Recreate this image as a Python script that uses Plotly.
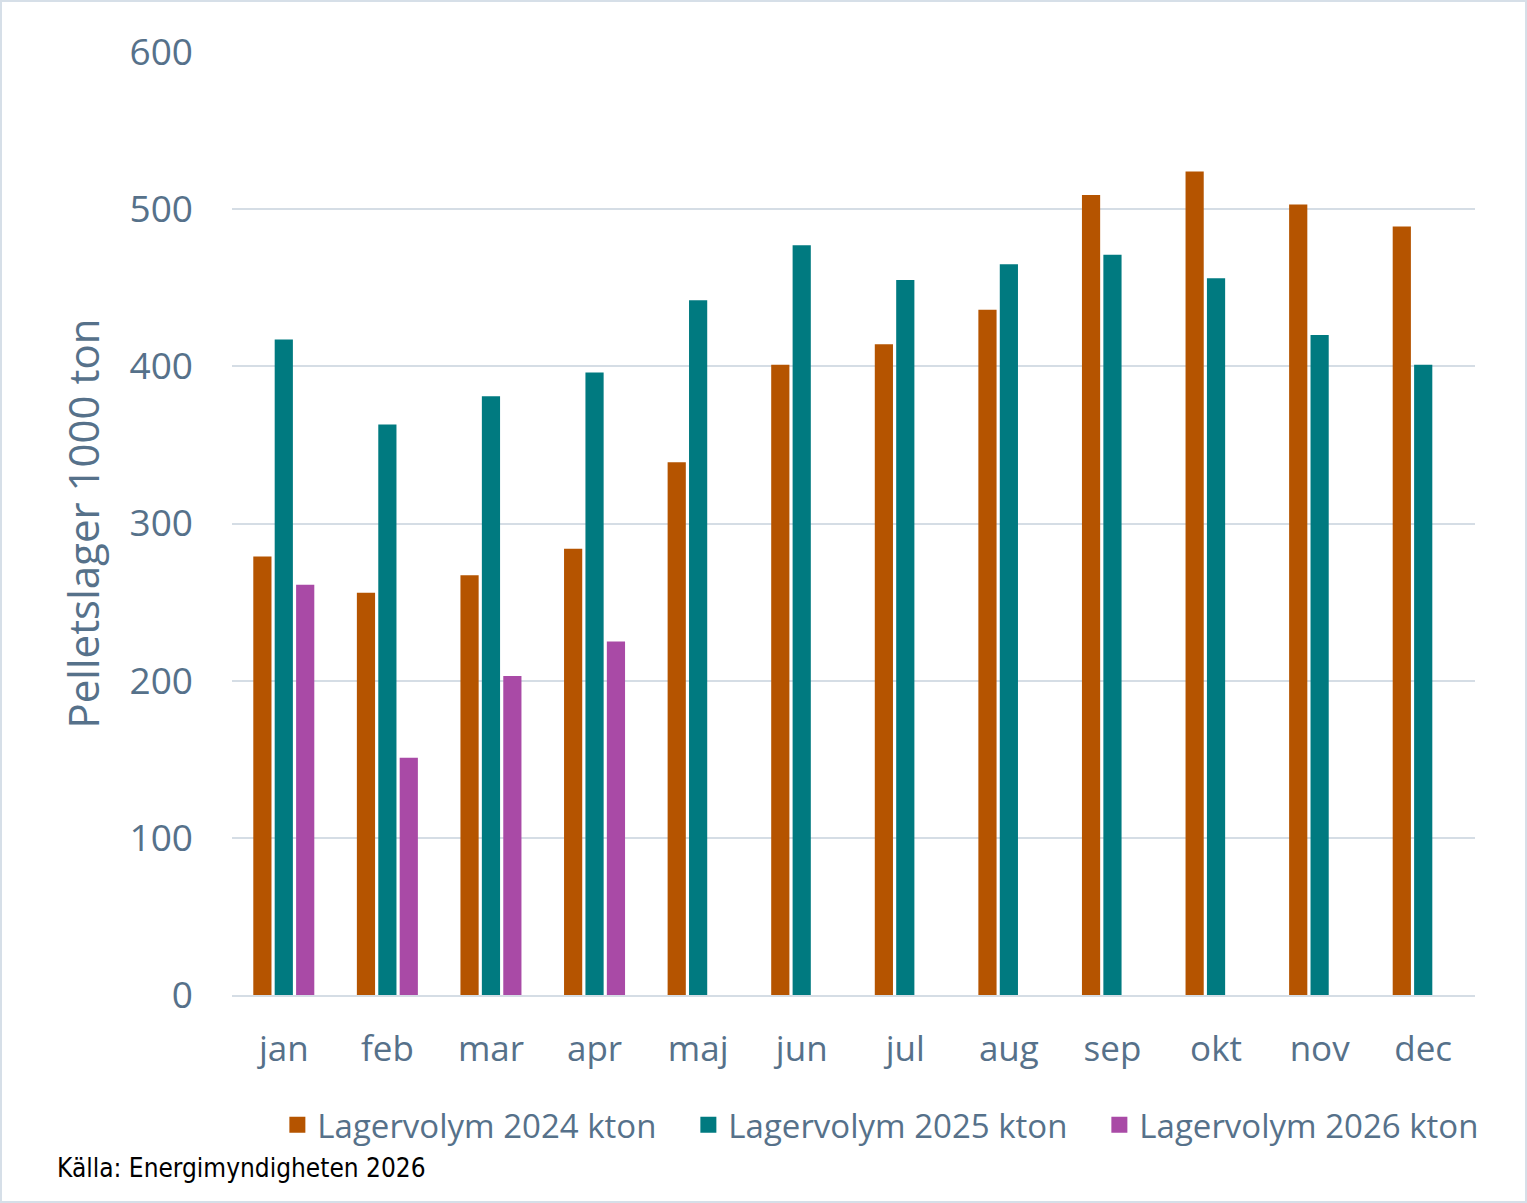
import plotly.graph_objects as go

months = ["jan", "feb", "mar", "apr", "maj", "jun", "jul", "aug", "sep", "okt", "nov", "dec"]
vol_2024 = [279, 256, 267, 284, 339, 401, 414, 436, 509, 524, 503, 489]
vol_2025 = [417, 363, 381, 396, 442, 477, 455, 465, 471, 456, 420, 401]
vol_2026 = [261, 151, 203, 225, None, None, None, None, None, None, None, None]
series_names = ["Lagervolym 2024 kton", "Lagervolym 2025 kton", "Lagervolym 2026 kton"]
colors = ["#B55400", "#007A80", "#A94AA6"]
y_ticks = [0, 100, 200, 300, 400, 500, 600]

TXT = "#56718A"
FONT = "Open Sans, Noto Sans, Arial, sans-serif"

fig = go.Figure()
for name, vals, col in zip(series_names, [vol_2024, vol_2025, vol_2026], colors):
    fig.add_trace(go.Bar(x=months, y=vals, name=name, marker_color=col, marker_line_width=0,
                         showlegend=False))
# legend entries with larger square symbols
for name, col in zip(series_names, colors):
    fig.add_trace(go.Scatter(x=[None], y=[None], mode="markers", name=name,
                             marker=dict(symbol="square", size=20, color=col)))

fig.update_layout(
    width=1527, height=1203,
    paper_bgcolor="white", plot_bgcolor="white",
    margin=dict(l=232, r=52, t=52, b=208, autoexpand=False),
    barmode="group", bargap=0.38, bargroupgap=0.15,
    font=dict(family=FONT, color=TXT),
    showlegend=True,
    legend=dict(orientation="h", x=0.0365, xanchor="left", y=-0.108, yanchor="top",
                font=dict(size=33, color=TXT, family=FONT),
                entrywidth=366, entrywidthmode="pixels", itemwidth=30,
                itemsizing="trace",
                bgcolor="rgba(0,0,0,0)"),
    xaxis=dict(showgrid=False, showline=True, linecolor="#D5DDE5", linewidth=2,
               ticks="", tickfont=dict(size=35, color=TXT), ticklabelstandoff=22),
    yaxis=dict(range=[0, 600], tickvals=y_ticks, showgrid=True, gridcolor="#D5DDE5", gridwidth=2,
               zeroline=False, showline=False, ticks="",
               tickfont=dict(size=37, color=TXT), ticklabelstandoff=38,
               title=dict(text="Pelletslager 1000 ton", font=dict(size=42, color=TXT), standoff=16)),
    shapes=[dict(type="rect", xref="paper", yref="paper", x0=-232/1243, x1=1+52/1243,
                 y0=-208/943, y1=1+52/943, line=dict(color="#D6DFE8", width=4), layer="below")],
    annotations=[dict(text="Källa: Energimyndigheten 2026", xref="paper", yref="paper",
                      x=(55-232)/1243, y=-(1168-995)/943, xanchor="left", yanchor="middle",
                      showarrow=False,
                      font=dict(size=26, color="black",
                                family="Liberation Sans Narrow, DejaVu Sans Condensed, Roboto, sans-serif"))],
)

fig.write_html("out.html")
